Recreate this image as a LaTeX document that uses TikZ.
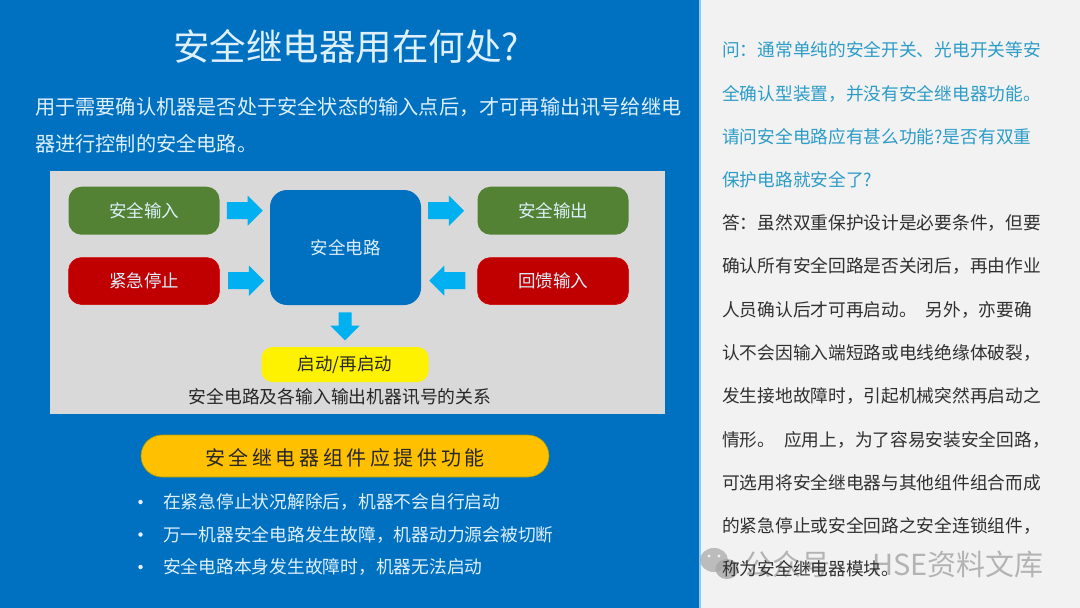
\documentclass[tikz,border=0pt]{standalone}
\usepackage{fontspec}
\setmainfont{Noto Sans CJK SC}
\newfontfamily\spacedfont[LetterSpace=18]{Noto Sans CJK SC}
\usetikzlibrary{shapes.arrows}
\newcommand\qc{\char"FF0C\relax}
\newcommand\qk{\char"FF1A\relax}
\definecolor{bgblue}{HTML}{0070C0}
\definecolor{panel}{HTML}{F2F2F2}
\definecolor{edgeblue}{HTML}{8CCBF0}
\definecolor{graybox}{HTML}{D9D9D9}
\definecolor{arrowblue}{HTML}{00B0F0}
\definecolor{okgreen}{HTML}{548235}
\definecolor{alarmred}{HTML}{C00000}
\definecolor{pillgold}{HTML}{FFC000}
\definecolor{softwhite}{HTML}{DDF0FB}
\definecolor{qblue}{HTML}{2C9CC8}
\definecolor{atext}{HTML}{303030}
\definecolor{darktext}{HTML}{262626}
\tikzset{
  x=1pt,y=-1pt,
  txt/.style={inner sep=0pt,anchor=west},
  panelq/.style={txt,text=qblue,text height=15.6pt,text depth=2.1pt,font=\fontsize{17.7}{20}\selectfont},
  panela/.style={txt,text=atext,text height=15.6pt,text depth=2.1pt,font=\fontsize{17.7}{20}\selectfont},
  lead/.style={txt,text=softwhite,text height=17.8pt,text depth=2.4pt,font=\fontsize{20.2}{24}\selectfont},
  bullettxt/.style={txt,text=softwhite,text height=15.6pt,text depth=2.1pt,font=\fontsize{17.75}{20}\selectfont},
  dotmark/.style={circle,fill=white!90!bgblue,inner sep=0pt,minimum size=4.5pt},
  blockbox/.style={rounded corners=13pt,minimum width=151pt,minimum height=48pt,inner sep=0pt,
    text=softwhite,font=\fontsize{17.5}{20}\selectfont},
  greenbox/.style={blockbox,fill=okgreen},
  redbox/.style={blockbox,fill=alarmred,draw=red!85!black,line width=0.5pt},
  flowarrow/.style={single arrow,fill=arrowblue,inner sep=0pt,minimum height=36pt,minimum width=30pt,
    text height=16.6pt,text depth=0pt,text width=1pt,
    single arrow head extend=6.7pt,single arrow tip angle=90},
  wm/.style={text=gray!75,opacity=0.75}
}
\begin{document}
\begin{tikzpicture}
\useasboundingbox (0,0) rectangle (1080,608);
\fill[bgblue] (0,0) rectangle (700,608);
\fill[panel] (700,0) rectangle (1080,608);
\fill[edgeblue] (699.2,0) rectangle (700.5,608);

\node[inner sep=0pt,text=softwhite,font=\fontsize{36.5}{40}\selectfont] (title) at (346,46.5) {安全继电器用在何处?};
\node[lead] (lead1) at (35,106.5) {用于需要确认机器是否处于安全状态的输入点后\qc 才可再输出讯号给继电};
\node[lead] (lead2) at (35,144) {器进行控制的安全电路。};

\fill[graybox] (50,170.5) rectangle (664.5,414);

\node[greenbox] (sin) at (144,210.7) {安全输入};
\node[redbox,minimum height=47pt] (estop) at (144,281) {紧急停止};
\node[greenbox] (sout) at (553,210.7) {安全输出};
\node[redbox,minimum height=47pt] (fb) at (553,281) {回馈输入};
\node[rounded corners=17pt,minimum width=151pt,minimum height=115pt,inner sep=0pt,fill=bgblue,
  text=softwhite,font=\fontsize{17.5}{20}\selectfont] (circ) at (345.5,247.5) {安全电路};
\node[rounded corners=11pt,minimum width=167pt,minimum height=35pt,inner sep=0pt,fill=yellow,
  text=darktext,font=\fontsize{17.5}{20}\selectfont] (start) at (345,364.5) {启动/再启动};
\node[inner sep=0pt,text=darktext,font=\fontsize{17.8}{20}\selectfont] (cap) at (340,397) {安全电路及各输入输出机器讯号的关系};

\node[flowarrow] (a1) at (240.5,210.7) {};
\node[flowarrow] (a2) at (241.8,280.7) {};
\node[flowarrow] (a3) at (441.8,210.7) {};
\node[flowarrow,shape border rotate=180] (a4) at (451.5,280.7) {};
\node[flowarrow,rotate=-90,minimum height=28pt,minimum width=29pt,text height=12.6pt,single arrow head extend=8.2pt] (a5) at (345,323) {};

\node[rounded corners=21pt,minimum width=408pt,minimum height=42pt,inner sep=0pt,fill=pillgold,
  draw=olive!70!pillgold,line width=0.6pt,text=darktext,text height=19pt,text depth=0pt] (pill) at (345,456)
  {\fontsize{20}{24}\selectfont\spacedfont 安全继电器组件应提供功能};

\node[dotmark] (d1) at (140.5,502) {};
\node[dotmark] (d2) at (140.5,534.5) {};
\node[dotmark] (d3) at (140.5,567) {};
\node[bullettxt] (b1) at (163,502) {在紧急停止状况解除后\qc 机器不会自行启动};
\node[bullettxt] (b2) at (163,534.5) {万一机器安全电路发生故障\qc 机器动力源会被切断};
\node[bullettxt] (b3) at (163,567) {安全电路本身发生故障时\qc 机器无法启动};

% watermark
\fill[gray!70,opacity=0.7] (714,560) ellipse (14pt and 12pt);
\fill[gray!70,opacity=0.8] (727,569) ellipse (11.5pt and 10pt);
\fill[panel] (709,556) circle (1.7pt) (719,556) circle (1.7pt);
\node[wm,inner sep=0pt,anchor=west,font=\fontsize{29}{32}\selectfont] (wm1) at (743,564) {公众号};
\node[wm,inner sep=0pt,anchor=east,font=\fontsize{29}{32}\selectfont] (wm2) at (1044,564) {HSE资料文库};

\node[panelq] (q1) at (722,50) {问\qk 通常单纯的安全开关、光电开关等安};
\node[panelq] (q2) at (722,94) {全确认型装置\qc 并没有安全继电器功能。};
\node[panelq] (q3) at (722,137) {请问安全电路应有甚么功能?是否有双重};
\node[panelq] (q4) at (722,180) {保护电路就安全了?};
\node[panela] (p1) at (722,223) {答\qk 虽然双重保护设计是必要条件\qc 但要};
\node[panela] (p2) at (722,266) {确认所有安全回路是否关闭后\qc 再由作业};
\node[panela] (p3) at (722,310) {人员确认后才可再启动。\hspace{5pt} 另外\qc 亦要确};
\node[panela] (p4) at (722,353) {认不会因输入端短路或电线绝缘体破裂\qc};
\node[panela] (p5) at (722,396) {发生接地故障时\qc 引起机械突然再启动之};
\node[panela] (p6) at (722,440) {情形。\hspace{5pt} 应用上\qc 为了容易安装安全回路\qc};
\node[panela] (p7) at (722,483) {可选用将安全继电器与其他组件组合而成};
\node[panela] (p8) at (722,526) {的紧急停止或安全回路之安全连锁组件\qc};
\node[panela] (p9) at (722,569) {称为安全继电器模块。};
\end{tikzpicture}
\end{document}
